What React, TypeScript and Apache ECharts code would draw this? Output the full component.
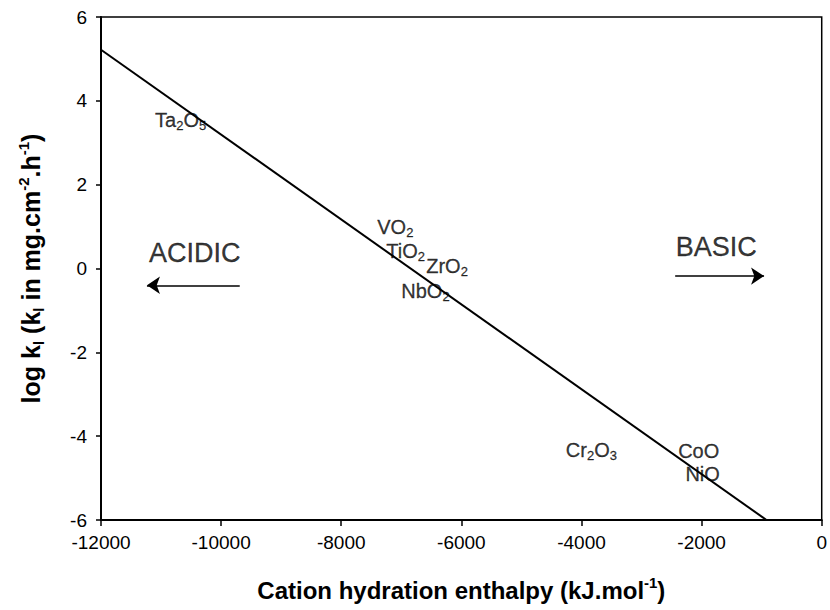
import React, { useEffect, useRef } from "react";
import * as echarts from "echarts";

// Fitted trend line (end points)
const fitX = [-12000, -920];
const fitY = [5.22, -6];

// Oxide labels: rich-text label, x (left edge), y (centre of text)
const oxideLabels = [
  "{m|Ta}{s|2}{m|O}{s|5}",
  "{m|VO}{s|2}",
  "{m|TiO}{s|2}",
  "{m|ZrO}{s|2}",
  "{m|NbO}{s|2}",
  "{m|Cr}{s|2}{m|O}{s|3}",
  "{m|CoO}",
  "{m|NiO}",
];
const oxideX = [-11100, -7400, -7250, -6585, -7000, -4260, -2390, -2270];
const oxideY = [3.55, 1.0, 0.42, 0.05, -0.53, -4.34, -4.35, -4.9];

// Region annotations
const regionNames = ["ACIDIC", "BASIC"];
const regionX = [-11200, -2430];
const regionY = [0.38, 0.51];
// arrows: tail x, head x, y
const arrowTailX = [-9690, -2440];
const arrowHeadX = [-11235, -960];
const arrowY = [-0.4, -0.18];

const xTicks = { min: -12000, max: 0, interval: 2000 };
const yTicks = { min: -6, max: 6, interval: 2 };

const FONT = "'Liberation Sans', Arial, Helvetica, sans-serif";

export default function App() {
  const ref = useRef<HTMLDivElement>(null);
  useEffect(() => {
    if (!ref.current) return;
    const chart = echarts.init(ref.current, undefined, { renderer: "svg" });
    const supStyle = {
      fontSize: 15,
      fontWeight: "bold",
      fontFamily: FONT,
      color: "#000",
      lineHeight: 15,
      verticalAlign: "top",
    };
    const option: any = {
      animation: false,
      backgroundColor: "#fff",
      grid: {
        left: 101,
        right: 7,
        top: 17,
        bottom: 87,
        show: true,
        borderColor: "#000",
        borderWidth: 1.5,
      },
      xAxis: {
        type: "value",
        min: xTicks.min,
        max: xTicks.max,
        interval: xTicks.interval,
        splitLine: { show: false },
        axisLine: { onZero: false, lineStyle: { color: "#000", width: 2 } },
        axisTick: { inside: false, length: 6, lineStyle: { color: "#000", width: 1.5 } },
        axisLabel: {
          color: "#000",
          fontSize: 19,
          fontFamily: FONT,
          margin: 13,
          formatter: (v: number) => String(v),
        },
        name: "Cation hydration enthalpy (kJ.mol{sup|-1})",
        nameLocation: "middle",
        nameGap: 55,
        nameTextStyle: {
          color: "#000",
          fontSize: 24,
          fontWeight: "bold",
          fontFamily: FONT,
          lineHeight: 30,
          rich: { sup: supStyle },
        },
      },
      yAxis: {
        type: "value",
        min: yTicks.min,
        max: yTicks.max,
        interval: yTicks.interval,
        splitLine: { show: false },
        axisLine: { onZero: false, lineStyle: { color: "#000", width: 2 } },
        axisTick: { inside: false, length: 5, lineStyle: { color: "#000", width: 1.5 } },
        axisLabel: {
          color: "#000",
          fontSize: 19,
          fontFamily: FONT,
          margin: 14,
          formatter: (v: number) => String(v),
        },
        name: "log k{sub|l} (k{sub|l} in mg.cm{sup|-2}.h{sup|-1})",
        nameLocation: "middle",
        nameGap: 55,
        nameTextStyle: {
          color: "#000",
          fontSize: 25,
          fontWeight: "bold",
          fontFamily: FONT,
          lineHeight: 30,
          rich: {
            sup: supStyle,
            sub: { ...supStyle, verticalAlign: "bottom" },
          },
        },
      },
      series: [
        {
          type: "line",
          data: fitX.map((x, i) => [x, fitY[i]]),
          showSymbol: false,
          symbol: "none",
          lineStyle: { color: "#000", width: 2 },
          z: 3,
        },
        {
          type: "scatter",
          symbolSize: 1,
          itemStyle: { color: "rgba(0,0,0,0)" },
          data: oxideX.map((x, i) => ({ value: [x, oxideY[i]], name: oxideLabels[i] })),
          label: {
            show: true,
            position: "inside",
            align: "left",
            verticalAlign: "middle",
            formatter: (p: any) => p.name,
            color: "#000",
            fontSize: 20,
            fontFamily: FONT,
            rich: {
              m: {
                fontSize: 20,
                fontFamily: FONT,
                color: "#000",
                textBorderColor: "#000",
                textBorderWidth: 0.3,
                lineHeight: 20,
                verticalAlign: "middle",
              },
              s: {
                fontSize: 13,
                fontFamily: FONT,
                color: "#000",
                textBorderColor: "#000",
                textBorderWidth: 0.3,
                lineHeight: 9,
                padding: [9, 0, 0, 0],
                verticalAlign: "top",
              },
            },
          },
          z: 4,
        },
        {
          type: "scatter",
          symbolSize: 1,
          itemStyle: { color: "rgba(0,0,0,0)" },
          data: regionX.map((x, i) => ({ value: [x, regionY[i]], name: regionNames[i] })),
          label: {
            show: true,
            position: "inside",
            align: "left",
            verticalAlign: "middle",
            formatter: (p: any) => p.name,
            color: "#000",
            textBorderColor: "#000",
            textBorderWidth: 0.3,
            fontSize: 27,
            fontFamily: FONT,
          },
          z: 4,
        },
        {
          type: "lines",
          coordinateSystem: "cartesian2d",
          symbol: ["none", "arrow"],
          symbolSize: 13,
          lineStyle: { color: "#000", width: 1.5, opacity: 1 },
          data: arrowTailX.map((x, i) => ({
            coords: [
              [x, arrowY[i]],
              [arrowHeadX[i], arrowY[i]],
            ],
          })),
          z: 4,
        },
      ],
    };
    chart.setOption(option);
    return () => chart.dispose();
  }, []);
  return <div ref={ref} style={{ width: 830, height: 610, position: "absolute", left: 0, top: 0 }} />;
}
